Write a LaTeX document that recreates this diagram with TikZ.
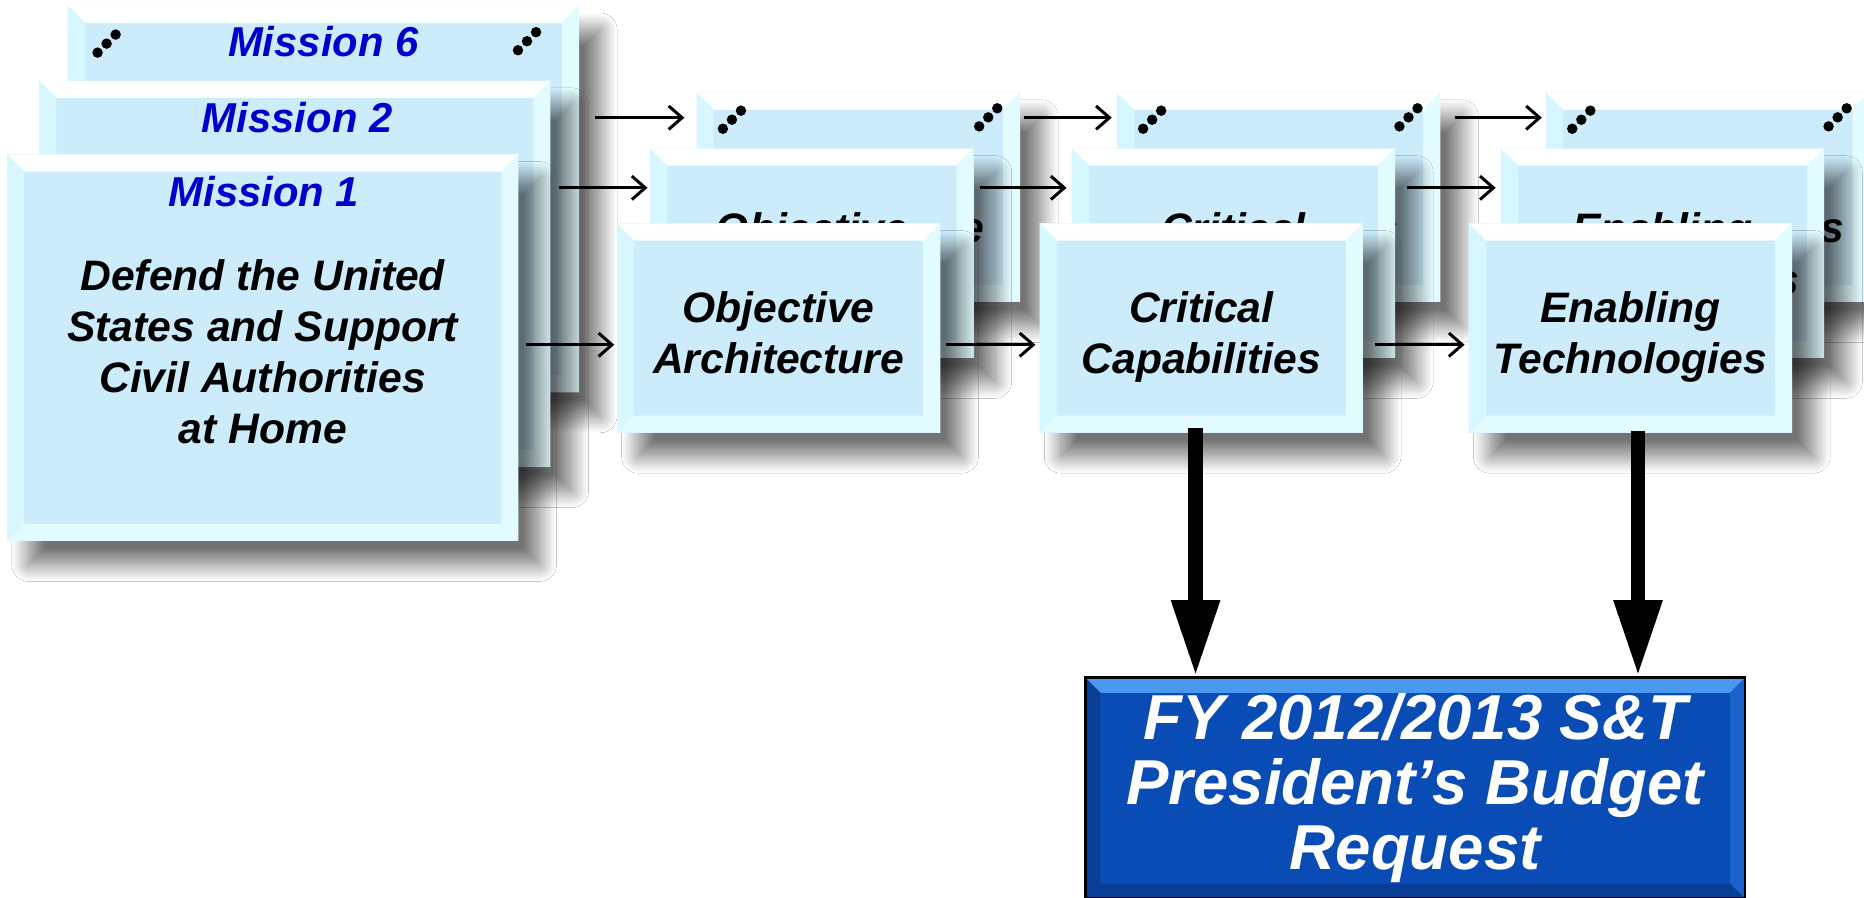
\documentclass[tikz,border=0pt]{standalone}
\usepackage{fontspec}
\setmainfont{Liberation Sans}
\usepackage{tikz}
\usetikzlibrary{arrows.meta}
\usetikzlibrary{shadows.blur}

\definecolor{boxface}{RGB}{204,236,252}
\definecolor{bevlight}{RGB}{226,251,255}
\definecolor{bevside}{RGB}{214,247,255}
\definecolor{budface}{RGB}{10,76,182}
\definecolor{budtop}{RGB}{74,152,240}
\definecolor{budside}{RGB}{8,62,150}
\definecolor{budright}{RGB}{28,98,205}
\definecolor{missionblue}{RGB}{0,0,204}

% raised frame drawn inside a box: top, left, right, bottom, width
\newcommand{\bevelrim}[5]{%
  \fill[#1] (path picture bounding box.north west) -- (path picture bounding box.north east)
    -- ([shift={(-#5,-#5)}]path picture bounding box.north east)
    -- ([shift={(#5,-#5)}]path picture bounding box.north west) -- cycle;
  \fill[#2] (path picture bounding box.north west) -- ([shift={(#5,-#5)}]path picture bounding box.north west)
    -- ([shift={(#5,#5)}]path picture bounding box.south west) -- (path picture bounding box.south west) -- cycle;
  \fill[#3] (path picture bounding box.north east) -- ([shift={(-#5,-#5)}]path picture bounding box.north east)
    -- ([shift={(-#5,#5)}]path picture bounding box.south east) -- (path picture bounding box.south east) -- cycle;
  \fill[#4] (path picture bounding box.south west) -- ([shift={(#5,#5)}]path picture bounding box.south west)
    -- ([shift={(-#5,#5)}]path picture bounding box.south east) -- (path picture bounding box.south east) -- cycle;
}
% three dots on a slant: anchor, xshift, yshift
\newcommand{\tripledot}[3]{%
  \coordinate (dc) at ([shift={(#2,#3)}]#1);
  \foreach \k in {-1,0,1} \fill ([shift={(\k*0.19cm,\k*0.19cm)}]dc) circle (0.11cm);
}
% centred lines, lowered a little (box size kept)
\newcommand{\boxtext}[2][-5.7pt]{\raisebox{#1}[\height][\depth]{\begin{tabular}{@{}c@{}}#2\end{tabular}}}

\begin{document}
\begin{tikzpicture}[x=0.025cm,y=-0.025cm]
  \tikzstyle{card}=[rectangle, inner sep=0pt, fill=boxface,
      font=\fontsize{25.5}{30.5}\selectfont\bfseries\itshape,
      blur shadow={shadow xshift=0.45cm, shadow yshift=-0.5cm, shadow blur radius=0.35cm,
                   shadow blur steps=25, shadow blur extra rounding=0pt, shadow opacity=55},
      path picture={\bevelrim{top color=white, bottom color=bevlight}{bevside}{bevlight}{bevlight}{0.36cm}}];
  \tikzstyle{mission}=[card, minimum width=10.75cm, minimum height=8.125cm];
  \tikzstyle{stage}=[card, minimum width=6.8cm, minimum height=4.4cm];
  \tikzstyle{mtitle}=[font=\fontsize{25}{30}\selectfont\bfseries\itshape, text=missionblue];
  \tikzstyle{budget}=[rectangle, inner sep=0pt, fill=budface, draw=black, line width=1.5pt,
      minimum width=13.875cm, minimum height=4.65cm, text=white, align=center,
      font=\fontsize{38}{39}\selectfont\bfseries\itshape,
      path picture={\bevelrim{budtop}{budside}{budright}{budside}{0.32cm}}];
  \tikzstyle{flow}=[-{Straight Barb[length=8pt,width=14pt]}, line width=1.8pt];
  \tikzstyle{fat}=[-{Triangle[length=1.6cm,width=0.95cm]}, line width=8.5pt];

  \fill[white] (0,0) rectangle (1568,755);
  \useasboundingbox (0,0) rectangle (1568,755);

  % back row
  \node[mission] (m6) at (272,167.5) {};
  \node[mtitle] (m6t) at (272,35) {Mission 6};
  \tripledot{m6.north west}{0.825cm}{-0.8cm}
  \tripledot{m6.north east}{-1.1cm}{-0.75cm}
  \node[stage] (ob) at (722,166) {\boxtext{Objective\\Architecture}};
  \node[stage] (cb) at (1075.5,166) {\boxtext{Critical\\Capabilities}};
  \node[stage] (eb) at (1436.5,166) {\boxtext{Enabling\\Technologies}};
  \tripledot{ob.north west}{0.75cm}{-0.575cm}
  \tripledot{ob.north east}{-0.675cm}{-0.525cm}
  \tripledot{cb.north west}{0.75cm}{-0.575cm}
  \tripledot{cb.north east}{-0.675cm}{-0.525cm}
  \tripledot{eb.north west}{0.75cm}{-0.575cm}
  \tripledot{eb.north east}{-0.675cm}{-0.525cm}

  % middle row
  \node[mission] (m2) at (248,230.5) {};
  \node[mtitle] (m2t) at (250,99) {Mission 2};
  \node[stage] (om) at (683,213) {\boxtext[-3.5pt]{Objective\\Architecture}};
  \node[stage] (cm) at (1037.5,213) {\boxtext[-3.5pt]{Critical\\Capabilities}};
  \node[stage] (em) at (1398.5,213) {\boxtext[-3.5pt]{Enabling\\Technologies}};

  % front row
  \node[mission] (m1) at (221,292.5) {\boxtext{Defend the United\\States and Support\\Civil Authorities\\at Home}};
  \node[mtitle] (m1t) at (222,161) {Mission 1};
  \node[stage] (of) at (655,276) {\boxtext{Objective\\Architecture}};
  \node[stage] (cf) at (1010.5,276) {\boxtext{Critical\\Capabilities}};
  \node[stage] (ef) at (1371.5,276) {\boxtext{Enabling\\Technologies}};

  \node[budget] (bud) at (1190.5,663) {FY 2012/2013 S\&T\\President’s Budget\\Request};

  \coordinate (rowA) at (0,99);
  \coordinate (rowB) at (0,158);
  \coordinate (rowC) at (0,290);
  \draw[flow, shorten <=0.32cm, shorten >=0.25cm] (m6.east |- rowA) -- (ob.west |- rowA);
  \draw[flow, shorten <=0.08cm, shorten >=0.1cm] (ob.east |- rowA) -- (cb.west |- rowA);
  \draw[flow, shorten <=0.3cm, shorten >=0.08cm] (cb.east |- rowA) -- (eb.west |- rowA);
  \draw[flow, shorten <=0.17cm, shorten >=0.05cm] (m2.east |- rowB) -- (om.west |- rowB);
  \draw[flow, shorten <=0.12cm, shorten >=0.1cm] (om.east |- rowB) -- (cm.west |- rowB);
  \draw[flow, shorten <=0.25cm, shorten >=0.1cm] (cm.east |- rowB) -- (em.west |- rowB);
  \draw[flow, shorten <=0.15cm, shorten >=0.05cm] (m1.east |- rowC) -- (of.west |- rowC);
  \draw[flow, shorten <=0.12cm, shorten >=0.08cm] (of.east |- rowC) -- (cf.west |- rowC);
  \draw[flow, shorten <=0.25cm, shorten >=0.08cm] (cf.east |- rowC) -- (ef.west |- rowC);

  \draw[fat] ([xshift=-0.12cm,yshift=0.1cm]cf.south) -- ([xshift=-0.12cm]cf.south |- bud.north);
  \draw[fat] ([xshift=0.16cm,yshift=0.05cm]ef.south) -- ([xshift=0.16cm]ef.south |- bud.north);
\end{tikzpicture}
\end{document}
